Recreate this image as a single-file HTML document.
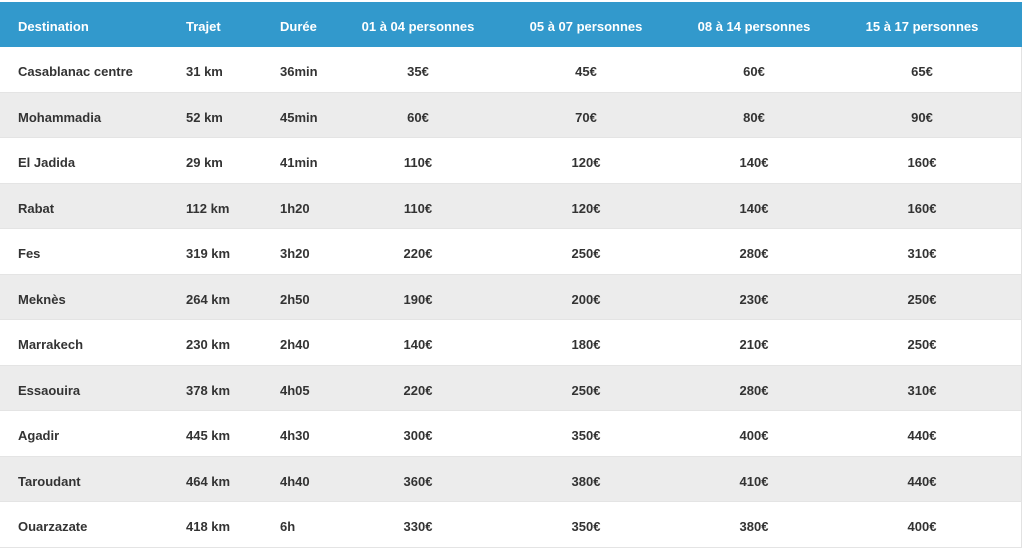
<!DOCTYPE html>
<html><head><meta charset="utf-8"><style>
body{margin:0;width:1024px;height:550px;background:#fff;overflow:hidden;font-family:"Liberation Sans",Arial,sans-serif;font-weight:bold;font-size:13px;color:#333;}
.r{position:absolute;left:0;width:1022px;height:45.5px;border-right:1px solid #e2e2e2;box-sizing:border-box;border-bottom:1px solid #e4e4e4}
.h{background:#3299cc;color:#fff;top:2px;height:45px;border:none}
.g{background:#ececec}
.c{position:absolute;top:0;padding-top:2px;line-height:45px;white-space:nowrap}
.l{text-align:left}
.m{width:168px;text-align:center}
</style></head><body>
<div id="t"></div>
<script>
var rows=[
["Casablanac centre","31 km","36min","35€","45€","60€","65€"],
["Mohammadia","52 km","45min","60€","70€","80€","90€"],
["El Jadida","29 km","41min","110€","120€","140€","160€"],
["Rabat","112 km","1h20","110€","120€","140€","160€"],
["Fes","319 km","3h20","220€","250€","280€","310€"],
["Meknès","264 km","2h50","190€","200€","230€","250€"],
["Marrakech","230 km","2h40","140€","180€","210€","250€"],
["Essaouira","378 km","4h05","220€","250€","280€","310€"],
["Agadir","445 km","4h30","300€","350€","400€","440€"],
["Taroudant","464 km","4h40","360€","380€","410€","440€"],
["Ouarzazate","418 km","6h","330€","350€","380€","400€"]];
var head=["Destination","Trajet","Durée","01 à 04 personnes","05 à 07 personnes","08 à 14 personnes","15 à 17 personnes"];
function mk(cells,cls,top){
 var s='<div class="r '+cls+'" style="top:'+top+'px">';
 var lx=[18,186,280];
 for(var i=0;i<3;i++) s+='<div class="c l" style="left:'+lx[i]+'px">'+cells[i]+'</div>';
 var cx=[418,586,754,922];
 for(var i=0;i<4;i++) s+='<div class="c m" style="left:'+(cx[i]-84)+'px">'+cells[i+3]+'</div>';
 return s+'</div>';
}
var h=mk(head,"h",2);
for(var i=0;i<rows.length;i++) h+=mk(rows[i],i%2?"g":"",47+i*45.5);
document.getElementById("t").innerHTML=h;
</script>
</body></html>
